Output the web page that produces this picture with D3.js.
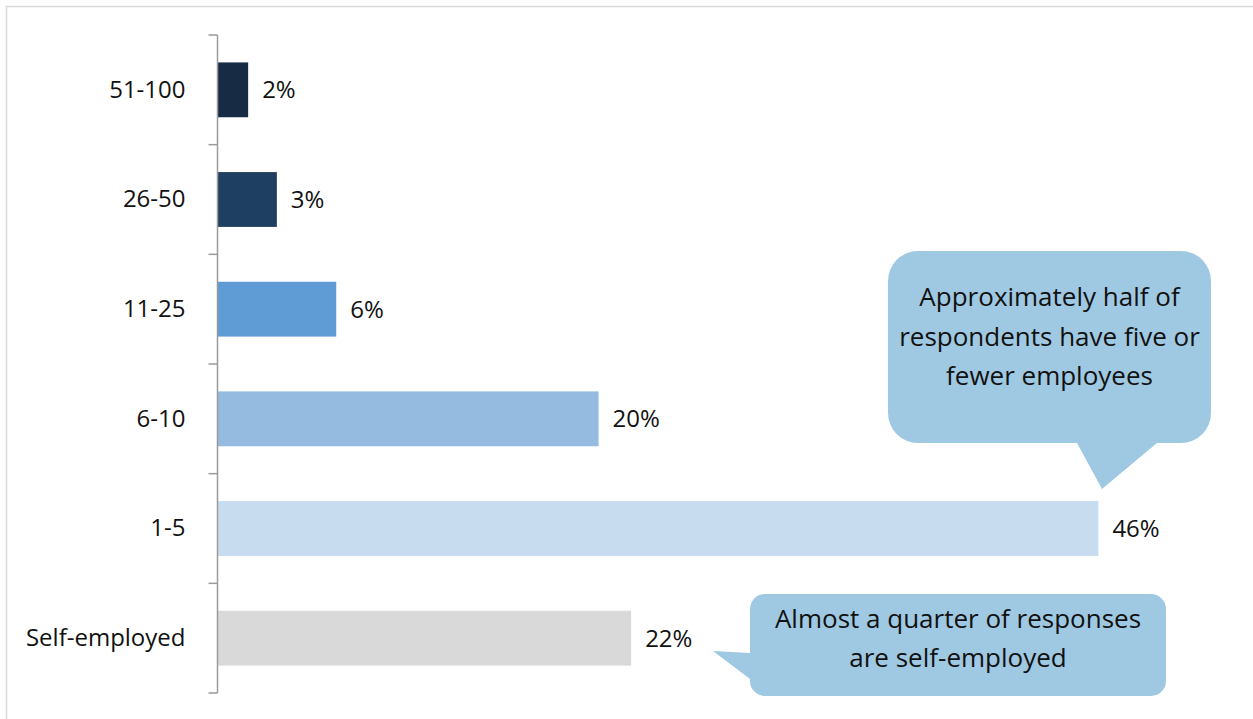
<!DOCTYPE html>
<html>
<head>
<meta charset="utf-8">
<script src="https://cdn.jsdelivr.net/npm/d3@7"></script>
<style>
  html, body { margin: 0; padding: 0; background: #fff; }
  svg { display: block; font-family: "Open Sans", "Noto Sans", sans-serif; }
</style>
</head>
<body>
<svg id="chart" width="1253" height="719"></svg>
<script>
// Firm size (number of employees), share of respondents in percent
const categories = ["51-100", "26-50", "11-25", "6-10", "1-5", "Self-employed"];
const shares = [1.6, 3.1, 6.2, 19.9, 46.0, 21.6];
const barColors = ["#172b45", "#1f3f62", "#5f9bd4", "#95bbe1", "#c8dcf0", "#d9d9d9"];

const calloutHalf = ["Approximately half of", "respondents have five or", "fewer employees"];
const calloutQuarter = ["Almost a quarter of responses", "are self-employed"];

const svg = d3.select("#chart");
const W = 1253, H = 719;

// outer frame
svg.append("rect")
  .attr("x", 6.5).attr("y", 6.5)
  .attr("width", W + 10).attr("height", H + 10)
  .attr("fill", "none").attr("stroke", "#d9d9d9").attr("stroke-width", 1.5);

const y = d3.scaleBand()
  .domain(categories)
  .range([35, 693])
  .paddingInner(0.5)
  .paddingOuter(0.25);

const x = d3.scaleLinear()
  .domain([0, 50])
  .range([217.5, 217.5 + 957.5]);

const pct = v => d3.format(".0f")(v) + "%";

// bars
svg.append("g").selectAll("rect")
  .data(categories)
  .join("rect")
  .attr("x", x(0))
  .attr("y", d => y(d))
  .attr("width", (d, i) => x(shares[i]) - x(0))
  .attr("height", y.bandwidth())
  .attr("fill", (d, i) => barColors[i]);

// value labels
svg.append("g").selectAll("text")
  .data(categories)
  .join("text")
  .attr("x", (d, i) => x(shares[i]) + 14)
  .attr("y", d => y(d) + y.bandwidth() / 2)
  .attr("dy", "0.35em")
  .attr("font-size", 24)
  .attr("fill", "#111")
  .text((d, i) => pct(shares[i]));

// category axis: labels from the band scale
const yAxis = d3.axisLeft(y).tickSize(0).tickPadding(32);
const ag = svg.append("g")
  .attr("transform", `translate(${x(0)},0)`)
  .call(yAxis);
ag.select(".domain").remove();
ag.selectAll("text")
  .attr("font-size", 24)
  .attr("font-family", "'Open Sans', 'Noto Sans', sans-serif")
  .attr("fill", "#111");

// axis line with tick marks on the band boundaries
const [r0, r1] = y.range();
const outer = y.paddingOuter() * y.step();
const bounds = categories.map(d => y(d) - outer).concat([r1]);
const axisG = svg.append("g").attr("stroke", "#9a9a9a").attr("stroke-width", 1.5).attr("fill", "none");
axisG.append("line")
  .attr("x1", x(0)).attr("x2", x(0))
  .attr("y1", r0).attr("y2", r1);
axisG.selectAll("line.tick")
  .data(bounds)
  .join("line")
  .attr("class", "tick")
  .attr("x1", x(0) - 9).attr("x2", x(0))
  .attr("y1", d => d).attr("y2", d => d);

// speech-bubble callouts
const bubbleFill = "#9fc9e2";

function roundedBubble(bx, by, bw, bh, r, tail) {
  // tail: points on the bottom edge (bottom) or left edge (left)
  const p = d3.path();
  p.moveTo(bx + r, by);
  p.lineTo(bx + bw - r, by);
  p.arcTo(bx + bw, by, bx + bw, by + r, r);
  p.lineTo(bx + bw, by + bh - r);
  p.arcTo(bx + bw, by + bh, bx + bw - r, by + bh, r);
  if (tail.side === "bottom") {
    p.lineTo(tail.b, by + bh);
    p.lineTo(tail.tipX, tail.tipY);
    p.lineTo(tail.a, by + bh);
  }
  p.lineTo(bx + r, by + bh);
  p.arcTo(bx, by + bh, bx, by + bh - r, r);
  if (tail.side === "left") {
    p.lineTo(bx, tail.b);
    p.lineTo(tail.tipX, tail.tipY);
    p.lineTo(bx, tail.a);
  }
  p.lineTo(bx, by + r);
  p.arcTo(bx, by, bx + r, by, r);
  p.closePath();
  return p.toString();
}

function bubble(box, tail, lines, fontSize, firstBaseline, lineGap) {
  const g = svg.append("g");
  g.append("path")
    .attr("d", roundedBubble(box.x, box.y, box.w, box.h, box.r, tail))
    .attr("fill", bubbleFill);
  g.append("text")
    .attr("text-anchor", "middle")
    .attr("font-size", fontSize)
    .attr("fill", "#111")
    .selectAll("tspan")
    .data(lines)
    .join("tspan")
    .attr("x", box.x + box.w / 2)
    .attr("y", (d, i) => firstBaseline + i * lineGap)
    .text(d => d);
}

// points at the 1-5 bar
bubble({ x: 888, y: 251, w: 323, h: 192, r: 30 },
       { side: "bottom", a: 1077, b: 1157, tipX: 1102, tipY: 489 },
       calloutHalf, 26, 306, 39.5);

// points at the self-employed bar
bubble({ x: 750, y: 594, w: 416, h: 102, r: 15 },
       { side: "left", a: 653, b: 679, tipX: 713, tipY: 651 },
       calloutQuarter, 26, 628, 39);
</script>
</body>
</html>
